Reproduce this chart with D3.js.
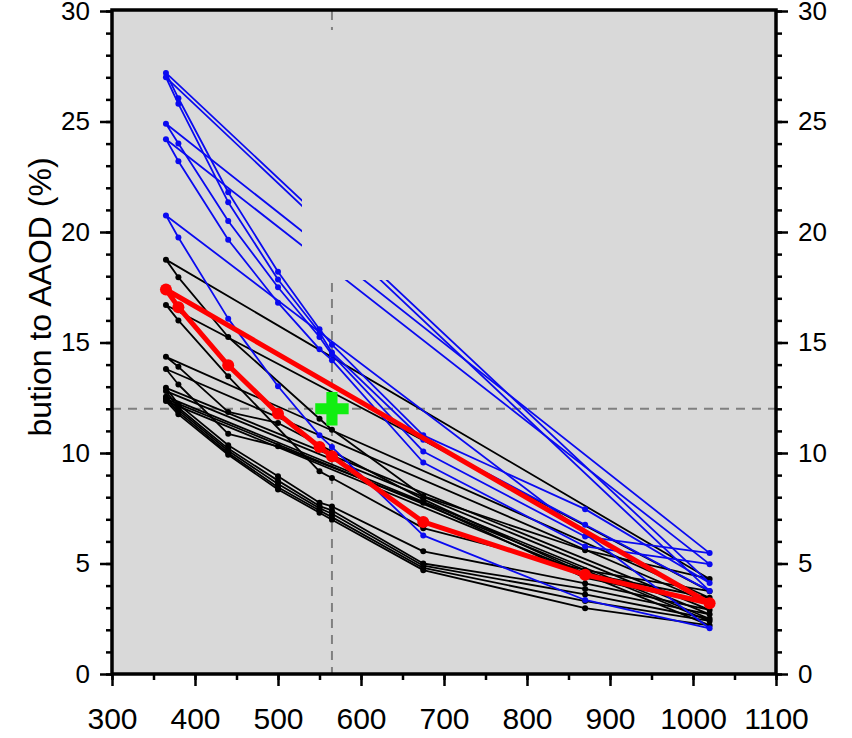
<!DOCTYPE html>
<html>
<head>
<meta charset="utf-8">
<script src="https://cdn.jsdelivr.net/npm/d3@7"></script>
<style>
  body { margin: 0; background: #fff; }
  text { font-family: "Liberation Sans", Arial, sans-serif; }
</style>
</head>
<body>
<script>
// wavelengths (nm)
var wavelengths = [365, 380, 440, 500, 550, 565, 675, 870, 1020];

// black series (null = no value at that wavelength)
var blackSeries = [
  [18.75, 17.95, 15.25, null, 11.55, 11.05, 8.05, 5.6, 4.3],
  [16.7, 16.0, 13.47, null, 9.17, 8.87, 6.6, 4.7, 3.75],
  [14.35, 13.9, 11.86, 11.36, null, null, 7.9, 4.55, 3.45],
  [13.8, 13.1, 10.87, 10.3, null, null, 7.75, 4.35, 3.2],
  [12.95, 12.2, 10.35, 8.95, 7.75, 7.58, 5.55, 4.1, 2.9],
  [12.8, 12.05, 10.2, 8.75, 7.6, 7.4, 5.0, 3.85, 2.7],
  [12.55, 11.95, 10.1, 8.6, 7.5, 7.25, 4.9, 3.6, 2.5],
  [12.45, 11.85, 10.0, 8.45, 7.4, 7.1, 4.8, 3.3, 2.4],
  [12.35, 11.75, 9.92, 8.35, 7.3, 6.98, 4.7, 2.98, 2.2]
];

// blue series
var blueSeries = [
  [27.2, 26.05, 21.8, 18.2, 15.6, 14.9, 10.8, 7.46, 4.12],
  [27.0, 25.8, 21.35, 17.85, 15.45, 14.55, 10.6, 6.75, 3.76],
  [24.9, 24.0, 20.5, 17.5, 15.25, 14.45, 10.07, 6.22, 5.47],
  [24.2, 23.2, 19.65, 16.8, 14.7, 14.2, 9.57, 5.77, 4.97],
  [20.75, 19.75, 16.08, 13.02, 10.8, 10.27, 6.27, 3.35, 2.07]
];

// red series
var redSeries = [17.4, 16.6, 13.97, 11.78, 10.27, 9.85, 6.88, 4.49, 3.2];

// reference point
var refX = 565, refY = 12.0;

var xTicks = [300, 400, 500, 600, 700, 800, 900, 1000, 1100];
var yTicks = [0, 5, 10, 15, 20, 25, 30];

var W = 852, H = 738;
var pL = 112, pR = 776, pT = 11, pB = 674;

var svg = d3.select("body").append("svg")
  .attr("width", W)
  .attr("height", H);

var x = d3.scaleLinear().domain([300, 1100]).range([pL, pR]);
var y = d3.scaleLinear().domain([0, 30]).range([pB, pT]);

// plot background
svg.append("rect")
  .attr("x", pL).attr("y", pT - 1)
  .attr("width", pR - pL).attr("height", pB - pT + 1)
  .attr("fill", "#d9d9d9");

// dashed reference lines
svg.append("line")
  .attr("x1", x(refX)).attr("x2", x(refX))
  .attr("y1", pT).attr("y2", pB)
  .attr("stroke", "#808080").attr("stroke-width", 2)
  .attr("stroke-dasharray", "9,7");
svg.append("line")
  .attr("x1", pL).attr("x2", pR)
  .attr("y1", y(refY)).attr("y2", y(refY))
  .attr("stroke", "#808080").attr("stroke-width", 2)
  .attr("stroke-dasharray", "9,7");

function pts(vals) {
  return vals.map(function(v, i) { return [wavelengths[i], v]; })
    .filter(function(d) { return d[1] != null; });
}

var line = d3.line()
  .x(function(d) { return x(d[0]); })
  .y(function(d) { return y(d[1]); })
  .curve(d3.curveLinearClosed);

function drawSeries(list, color, lw, r) {
  var g = svg.append("g");
  list.forEach(function(s) {
    var p = pts(s);
    g.append("path")
      .attr("d", line(p))
      .attr("fill", "none")
      .attr("stroke", color)
      .attr("stroke-width", lw)
      .attr("stroke-linejoin", "round");
    g.selectAll(null)
      .data(p)
      .enter()
      .append("circle")
      .attr("cx", function(d) { return x(d[0]); })
      .attr("cy", function(d) { return y(d[1]); })
      .attr("r", r)
      .attr("fill", color);
  });
}

drawSeries(blackSeries, "#000", 1.8, 3);
drawSeries(blueSeries, "#0a0af0", 1.8, 3);

// blank box over the upper right part (hides lines there)
svg.append("rect")
  .attr("x", 302).attr("y", 30)
  .attr("width", pR - 302).attr("height", 250)
  .attr("fill", "#d9d9d9");

drawSeries([redSeries], "#ff0000", 5, 6);

// green cross
svg.append("path")
  .attr("d", d3.symbol().type(d3.symbolCross).size(620)())
  .attr("transform", "translate(" + x(refX) + "," + y(refY) + ")")
  .attr("fill", "#11ee11");

// axes
var yMinor = d3.range(0, 31, 1);
var xMinor = d3.range(300, 1101, 50);

svg.append("g")
  .attr("transform", "translate(" + pL + ",0)")
  .call(d3.axisLeft(y).tickValues(yMinor).tickSize(6).tickFormat(""));
svg.append("g")
  .attr("class", "ylab")
  .attr("transform", "translate(" + pL + ",0)")
  .call(d3.axisLeft(y).tickValues(yTicks).tickSize(12).tickPadding(10));

svg.append("g")
  .attr("transform", "translate(" + pR + ",0)")
  .call(d3.axisRight(y).tickValues(yMinor).tickSize(6).tickFormat(""));
svg.append("g")
  .attr("class", "ylab")
  .attr("transform", "translate(" + pR + ",0)")
  .call(d3.axisRight(y).tickValues(yTicks).tickSize(12).tickPadding(10));

svg.append("g")
  .attr("transform", "translate(0," + pB + ")")
  .call(d3.axisBottom(x).tickValues(xMinor).tickSize(6).tickFormat(""));
svg.append("g")
  .attr("class", "xlab")
  .attr("transform", "translate(0," + pB + ")")
  .call(d3.axisBottom(x).tickValues(xTicks).tickSize(12).tickPadding(22).tickFormat(d3.format("d")));

svg.selectAll(".domain").remove();
svg.selectAll(".tick line").attr("stroke", "#000").attr("stroke-width", 2.5);
svg.selectAll(".ylab text").attr("font-size", 26).attr("fill", "#000")
  .style("font-family", "Liberation Sans, Arial, sans-serif");
svg.selectAll(".xlab text").attr("font-size", 30).attr("fill", "#000")
  .style("font-family", "Liberation Sans, Arial, sans-serif");

// frame
svg.append("rect")
  .attr("x", pL).attr("y", pT - 1)
  .attr("width", pR - pL).attr("height", pB - pT + 1)
  .attr("fill", "none")
  .attr("stroke", "#000")
  .attr("stroke-width", 3.5);

// y title (cut in the original)
svg.append("text")
  .attr("transform", "translate(51,297) rotate(-90)")
  .attr("text-anchor", "middle")
  .attr("font-size", 32)
  .text("bution to AAOD (%)");
</script>
</body>
</html>
